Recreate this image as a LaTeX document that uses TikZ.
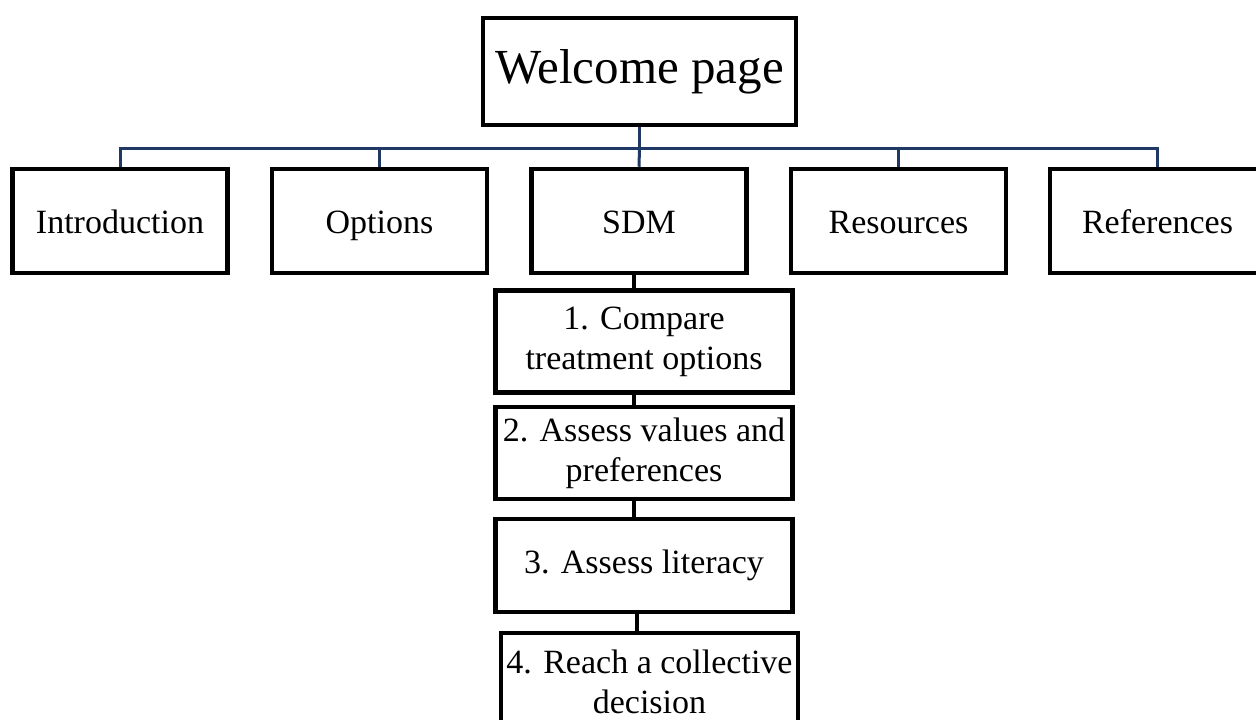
\documentclass[tikz,border=0pt]{standalone}
\usepackage{fontspec}
\setmainfont{Liberation Serif}
\usepackage{tikz}
\usetikzlibrary{shapes}
\definecolor{busblue}{RGB}{32,56,100}

\begin{document}
\begin{tikzpicture}[x=1pt, y=-1pt]
	\tikzstyle{every node} = [rectangle, draw, line width=4.5pt, align=center, inner sep=0pt]
	\tikzstyle{tab}  = [minimum width=215pt, minimum height=104pt, text height=30pt, text depth=6pt, font=\fontsize{34}{40}\selectfont]
	\tikzstyle{part} = [minimum width=297pt, font=\fontsize{34}{40}\selectfont]
	\tikzstyle{bus}  = [draw=busblue, line width=3pt]
	\tikzstyle{link} = [draw=black, line width=3.5pt]
	\useasboundingbox (0,0) rectangle (1256,720);
	% top of the site
	\node (welcome) at (639.5,71.5) [minimum width=313pt, minimum height=107pt, font=\fontsize{49}{50}\selectfont] {Welcome page};
	% menu tabs
	\node (intro)   at (120,221)    [tab] {Introduction};
	\node (options) at (379.5,221)  [tab] {Options};
	\node (sdm)     at (639,221)    [tab] {SDM};
	\node (res)     at (898.5,221)  [tab] {Resources};
	\node (refs)    at (1157.5,221) [tab] {References};
	\coordinate (hub) at (639.5,148);
	\draw [bus] (welcome.south) -- (hub);
	\draw [bus] (hub) -| (intro.north);
	\draw [bus] (hub) -| (options.north);
	\draw [bus] (hub) -- (sdm.north);
	\draw [bus] (hub) -| (res.north);
	\draw [bus] (hub) -| (refs.north);
	% steps under SDM
	\node (step1) at (644,341.5) [part, minimum height=102pt] {1. Compare\\treatment options};
	\node (step2) at (644,453)   [part, minimum height=92pt]  {2. Assess values and\\preferences};
	\node (step3) at (644,565.5) [part, minimum height=93pt]  {3. Assess literacy};
	\node (step4) at (649.5,682) [part, minimum height=98pt]  {4. Reach a collective\\decision};
	\draw [link] ([xshift=-5pt]sdm.south) -- ([xshift=-10pt]step1.north);
	\draw [link] ([xshift=-10pt]step1.south) -- ([xshift=-10pt]step2.north);
	\draw [link] ([xshift=-10pt]step2.south) -- ([xshift=-10pt]step3.north);
	\draw [link] ([xshift=-7pt]step3.south) -- ([xshift=-12.5pt]step4.north);
\end{tikzpicture}
\end{document}
